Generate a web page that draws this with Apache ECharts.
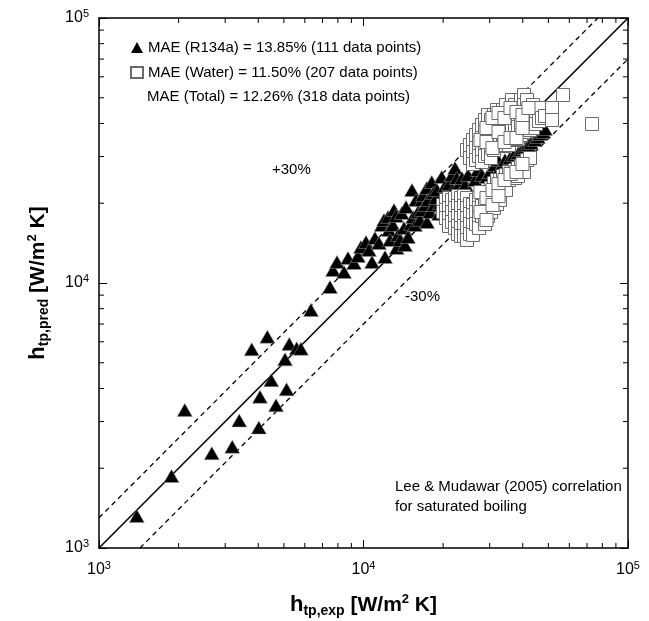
<!DOCTYPE html>
<html><head><meta charset="utf-8">
<script src="https://cdn.jsdelivr.net/npm/echarts@6/dist/echarts.min.js"></script>
<style>html,body{margin:0;padding:0;background:#fff}#c{width:649px;height:621px}</style>
</head><body><div id="c"></div>
<script>
const FONT = "'Liberation Sans', Arial, Helvetica, sans-serif";
const axisMin = 1000, axisMax = 100000;
const minorMultipliers = [2, 3, 4, 5, 6, 7, 8, 9];
const minorDecades = [1000, 10000];

const r134aLabel = 'MAE (R134a) = 13.85% (111 data points)';
const waterLabel = 'MAE (Water) = 11.50% (207 data points)';
const totalLabel = 'MAE (Total) = 12.26% (318 data points)';
const noteLines = ['Lee & Mudawar (2005) correlation', 'for saturated boiling'];
const bandLabels = ['+30%', '-30%'];

// Reference lines (exp, pred)
const perfectLine = [[1000, 1000], [100000, 100000]];
const plus30Line = [[1000, 1300], [76923, 100000]];
const minus30Line = [[1428.6, 1000], [100000, 70000]];

// R134a: experimental vs predicted [W/m2 K]
const r134aExp = [1390,1880,2110,2670,3190,3390,3780,4020,4060,4330,4480,4670,5050,5120,5240,5590,5800,6330,
 7470,7670,7940,8440,8740,9210,9530,9780,10220,10490,10770,11050,11440,11720,11950,12060,12380,12480,12590,12930,
 13040,13270,13350,13500,13740,13950,14230,14350,14480,14730,15120,15250,15390,15650,15790,16070,16350,16600,16640,
 16790,17080,17340,17390,17540,17840,18110,18360,18480,18790,18960,19290,19460,19750,20160,20330,20500,20690,21050,
 21560,21610,21800,22180,22180,22510,22770,23170,23570,23780,24200,24840,25270,25270,26400,27100,28050,29230,30080,
 31420,32250,32810,34270,35800,37070,38480,39650,40790,42000,42990,44500,45680,46480,47710,48550];
const r134aPred = [1320,1870,3320,2280,2410,3030,5620,2850,3720,6270,4300,3460,5150,3970,5890,5670,5650,7910,
 9660,11200,12000,11000,12430,11900,12640,13670,14280,13320,12000,14790,14160,16550,17290,12530,17750,15850,14530,16550,
 18860,17900,13560,15180,14530,18370,16120,13910,19360,14910,16700,22430,17750,16550,20570,18530,17290,18860,20570,
 21480,19690,22830,16990,20570,18530,24050,21860,19690,20930,22430,18210,20040,25120,19690,23230,21300,18530,23630,
 20570,25560,22430,27160,19690,24900,23230,21860,24900,20570,23430,25560,22050,20930,24470,26690,25560,25120,26230,
 27880,29120,27160,29120,29630,30410,30940,31760,32320,33170,33750,34640,35560,36500,37140,38120];

// Water: experimental vs predicted [W/m2 K]
const waterExp = [
 19980,19980, 20500,20500,20500, 21050,21050,21050,21050, 21610,21610,21610, 22180,22180,22180,22180,
 22770,22770,22770,22770,22770, 23370,23370,23370,23370,23370, 23990,23990,23990,23990,23990,
 24620,24620,24620,24620,24620,24620, 25270,25270,25270,25270,25270,25270,
 25940,25940,25940,25940,25940,25940,25940, 26630,26630,26630,26630,26630,26630,
 27340,27340,27340,27340,27340,27340,27340, 28050,28050,28050,28050,28050,28050,28050,
 28800,28800,28800,28800,28800,28800,28800,28800, 29560,29560,29560,29560,29560,29560,29560,
 30340,30340,30340,30340,30340,30340,30340, 31140,31140,31140,31140,31140,31140,31140,
 31970,31970,31970,31970,31970,31970,31970, 32810,32810,32810,32810,32810,32810,
 33680,33680,33680,33680,33680,33680, 34570,34570,34570,34570,34570,34570,34570,
 35490,35490,35490,35490,35490, 36430,36430,36430,36430,36430,36430, 37390,37390,37390,37390,37390,37390,
 38380,38380,38380,38380,38380, 39390,39390,39390,39390,39390, 40450,40450,40450,40450,40450,40450,
 41510,41510,41510,41510, 42610,42610,42610,42610, 43740,43740,43740, 44890,44890, 46080,46080, 47300, 48550,
 51610,51610, 56790, 73110,
 27690,27690,27690, 29180,29180,29180,29180, 30740,30740,30740,30740, 32390,32390,32390,32390,
 34120,34120,34120, 35960,35960,35960, 37880,37880,37880, 39920,39920,39920, 42060];
const waterPred = [
 19690,18540, 20570,18860,17590, 20930,19190,17590,16410, 20570,18540,16990, 20930,19190,17590,16130,
 21290,19520,17890,16410,15310, 20930,19190,17590,16130,15050, 21290,19520,17890,16410,15050,
 31760,20930,19190,17590,16130,14530, 33170,29630,19860,18210,16690,15310,
 34640,31210,28120,19690,18050,16550,15180, 36180,32320,29120,20570,18540,16690,
 37790,33750,30150,20930,19190,17590,16130, 39470,35250,31490,28620,21480,19520,17890,
 41220,37140,33460,30150,22040,20220,18540,16690, 43050,38450,34340,30680,21860,19690,17890,
 41220,36820,32880,29630,22820,20570,18540, 43050,38790,34940,31760,23840,21480,19190,
 44960,40510,36500,32880,24470,22040,19860, 41940,37790,34040,24470,22430,20570,
 44960,40510,36500,32880,25340,22820, 46960,41220,36180,33170,25560,24050,22430,
 43050,37790,33170,26230,24470, 49040,44960,41940,39470,34640,26230, 46960,43050,38450,34640,26690,24900,
 43050,38790,34940,27160,25340, 49040,44960,40510,36180,27640, 51220,46960,41940,37140,28370,26230,
 49040,43800,39470,29120, 45750,41220,37790,29630, 46960,41940,38450, 44190,39810, 45750,40860, 41940, 42680,
 45750,41220, 51220, 39810,
 34640,22040,18540, 38450,34040,20930,17290, 41940,32320,22430,19690, 43800,37140,23630,21290,
 41940,34040,24470, 45750,35250,25780, 44190,35250,26230, 43050,38450,28120, 45750];

const pairs = (xs, ys) => xs.map((x, i) => [x, ys[i]]);
const minorTickValues = [];
minorDecades.forEach(d => minorMultipliers.forEach(m => minorTickValues.push(d * m)));

const supLabel = v => '{b|10}{s|' + Math.round(Math.log10(v)) + '}';
const labelRich = { b: { fontSize: 16, fontFamily: FONT, color: '#000' },
                    s: { fontSize: 11, fontFamily: FONT, color: '#000', padding: [0, 0, 9, 0] } };
const nameRich = {
  h: { fontSize: 22, fontWeight: 'bold', fontFamily: FONT, color: '#000' },
  sub: { fontSize: 14, fontWeight: 'bold', fontFamily: FONT, color: '#000', padding: [12, 0, 0, 0] },
  t: { fontSize: 21, fontWeight: 'bold', fontFamily: FONT, color: '#000' },
  sup: { fontSize: 13, fontWeight: 'bold', fontFamily: FONT, color: '#000', padding: [0, 0, 12, 0] }
};
const axisBase = (extra) => Object.assign({
  type: 'log', logBase: 10, min: axisMin, max: axisMax,
  axisLine: { show: true, onZero: false, lineStyle: { color: '#000', width: 1.5 } },
  axisTick: { show: true, inside: true, length: 8, lineStyle: { color: '#000', width: 1 } },
  minorTick: { show: false }, splitLine: { show: false }
}, extra);

const chart = echarts.init(document.getElementById('c'), null, { renderer: 'canvas' });
chart.setOption({
  animation: false,
  backgroundColor: '#fff',
  grid: { left: 99, top: 18, width: 529, height: 530, containLabel: false, outerBoundsMode: 'none' },
  xAxis: [
    axisBase({ position: 'bottom',
      axisLabel: { formatter: supLabel, rich: labelRich, margin: 12 },
      name: '{h|h}{sub|tp,exp}{t| [W/m}{sup|2}{t| K]}', nameLocation: 'middle', nameGap: 44,
      nameTextStyle: { rich: nameRich } }),
    axisBase({ position: 'top', axisLabel: { show: false } })
  ],
  yAxis: [
    axisBase({ position: 'left',
      axisLabel: { formatter: supLabel, rich: labelRich, margin: 10 },
      name: '{h|h}{sub|tp,pred}{t| [W/m}{sup|2}{t| K]}', nameLocation: 'middle', nameGap: 48, nameRotate: 90,
      nameTextStyle: { rich: nameRich } }),
    axisBase({ position: 'right', axisLabel: { show: false } })
  ],
  legend: {
    orient: 'vertical', left: 125, top: 35, itemWidth: 12, itemHeight: 11, itemGap: 10,
    selectedMode: false,
    textStyle: { fontSize: 15, color: '#000', fontFamily: FONT },
    data: [{ name: r134aLabel, icon: 'triangle', itemStyle: { borderWidth: 0, color: '#000' } },
           { name: waterLabel, icon: 'rect' }]
  },
  graphic: [
    { type: 'text', x: 147, y: 97, style: { text: totalLabel, fontSize: 15, fontFamily: FONT, fill: '#000', verticalAlign: 'middle' } },
    { type: 'text', x: 272, y: 170, style: { text: bandLabels[0], fontSize: 15, fontFamily: FONT, fill: '#000', verticalAlign: 'middle' } },
    { type: 'text', x: 405, y: 297, style: { text: bandLabels[1], fontSize: 15, fontFamily: FONT, fill: '#000', verticalAlign: 'middle' } },
    { type: 'text', x: 395, y: 487, style: { text: noteLines[0], fontSize: 15, fontFamily: FONT, fill: '#000', verticalAlign: 'middle' } },
    { type: 'text', x: 395, y: 507, style: { text: noteLines[1], fontSize: 15, fontFamily: FONT, fill: '#000', verticalAlign: 'middle' } }
  ],
  series: [
    { type: 'line', data: perfectLine, symbol: 'none', silent: true, z: 1,
      lineStyle: { color: '#000', width: 1.6, type: 'solid' } },
    { type: 'line', data: plus30Line, symbol: 'none', silent: true, z: 1,
      lineStyle: { color: '#000', width: 1.3, type: [5, 4] } },
    { type: 'line', data: minus30Line, symbol: 'none', silent: true, z: 1,
      lineStyle: { color: '#000', width: 1.3, type: [5, 4] } },
    { name: r134aLabel, type: 'scatter', data: pairs(r134aExp, r134aPred), symbol: 'triangle', symbolSize: [15, 13],
      itemStyle: { color: '#000', borderColor: '#999', borderWidth: 0.5, opacity: 1 }, z: 3 },
    { name: waterLabel, type: 'scatter', data: pairs(waterExp, waterPred), symbol: 'rect', symbolSize: 13,
      itemStyle: { color: '#fff', borderColor: '#6a6a6a', borderWidth: 1, opacity: 1 }, z: 4 },
    { type: 'custom', coordinateSystem: 'cartesian2d', silent: true, clip: false, z: 6,
      data: minorTickValues.map(v => [v, v]),
      renderItem: (params, api) => {
        const v = api.value(0), L = 5;
        const b = api.coord([v, axisMin]), t = api.coord([v, axisMax]);
        const l = api.coord([axisMin, v]), r = api.coord([axisMax, v]);
        const st = { stroke: '#000', lineWidth: 1 };
        return { type: 'group', children: [
          { type: 'line', shape: { x1: b[0], y1: b[1], x2: b[0], y2: b[1] - L }, style: st },
          { type: 'line', shape: { x1: t[0], y1: t[1], x2: t[0], y2: t[1] + L }, style: st },
          { type: 'line', shape: { x1: l[0], y1: l[1], x2: l[0] + L, y2: l[1] }, style: st },
          { type: 'line', shape: { x1: r[0], y1: r[1], x2: r[0] - L, y2: r[1] }, style: st }
        ] };
      } }
  ]
});
</script></body></html>
